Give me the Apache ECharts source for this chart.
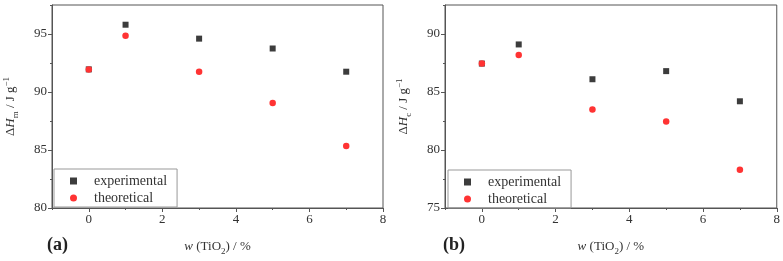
<!DOCTYPE html>
<html>
<head>
<meta charset="utf-8">
<script src="https://cdn.jsdelivr.net/npm/echarts@6/dist/echarts.min.js"></script>
<style>
    html, body {margin: 0; padding: 0; background: #fff;}
    #main {width: 783px; height: 261px;}
</style>
</head>
<body>
<div id="main"></div>
<script>
// w(TiO2) / %
const wTiO2 = [0, 1, 3, 5, 7];
// panel (a): melting enthalpy
const hmExperimental = [91.95, 95.8, 94.6, 93.75, 91.75];
const hmTheoretical = [91.95, 94.85, 91.75, 89.05, 85.35];
// panel (b): crystallisation enthalpy
const hcExperimental = [87.45, 89.1, 86.1, 86.8, 84.2];
const hcTheoretical = [87.45, 88.2, 83.5, 82.45, 78.3];

// ticks
const xMajor = [0, 2, 4, 6, 8];
const xMinor = [-1, 1, 3, 5, 7];
const yMajorA = [80, 85, 90, 95];
const yMinorA = [82.5, 87.5, 92.5, 97.5];
const yMajorB = [75, 80, 85, 90];
const yMinorB = [77.5, 82.5, 87.5, 92.5];

const FONT = '"Liberation Serif", "DejaVu Serif", serif';
const AXIS = '#555';
const SQ = '#3c3c3c';
const RED = '#ff3333';

const pairs = (ys) => wTiO2.map((x, i) => [x, ys[i]]);

const rich = {
    a: {fontFamily: FONT, fontSize: 13, color: '#333', lineHeight: 18},
    i: {fontFamily: FONT, fontSize: 13, color: '#333', fontStyle: 'italic', lineHeight: 18},
    sub: {fontFamily: FONT, fontSize: 9, color: '#333', verticalAlign: 'bottom', lineHeight: 9},
    sup: {fontFamily: FONT, fontSize: 9, color: '#333', verticalAlign: 'top', lineHeight: 9}
};

const xAxis = (gi) => ({
    gridIndex: gi,
    type: 'value',
    min: -1, max: 8, interval: 1,
    name: '{i|w} {a|(TiO}{sub|2}{a|) / %}',
    nameLocation: 'middle',
    nameGap: 30,
    nameTextStyle: {rich},
    axisLine: {onZero: false, lineStyle: {color: AXIS}},
    axisTick: {length: 4, customValues: xMajor, lineStyle: {color: AXIS}},
    splitLine: {show: false},
    axisLabel: {fontFamily: FONT, fontSize: 13, color: '#333', margin: 5, customValues: xMajor}
});

// second axis on the same grid, only for the short minor ticks
const xMinorAxis = (gi) => ({
    gridIndex: gi,
    type: 'value',
    position: 'bottom',
    min: -1, max: 8, interval: 1,
    axisLine: {show: false, onZero: false},
    axisTick: {length: 2, customValues: xMinor, lineStyle: {color: AXIS}},
    axisLabel: {show: false},
    splitLine: {show: false}
});

const yAxis = (gi, min, max, major, sub) => ({
    gridIndex: gi,
    type: 'value',
    min, max, interval: 5,
    name: '{a|Δ}{i|H}{sub|' + sub + '}{a| / J g}{sup|−1}',
    nameLocation: 'middle',
    nameGap: 32,
    nameTextStyle: {rich},
    axisLine: {show: true, onZero: false, lineStyle: {color: AXIS}},
    axisTick: {show: true, length: 4, customValues: major, lineStyle: {color: AXIS}},
    splitLine: {show: false},
    axisLabel: {fontFamily: FONT, fontSize: 13, color: '#333', margin: 5, customValues: major}
});

const yMinorAxis = (gi, min, max, minor) => ({
    gridIndex: gi,
    type: 'value',
    position: 'left',
    min, max, interval: 5,
    axisLine: {show: false, onZero: false},
    axisTick: {show: true, length: 2, customValues: minor, lineStyle: {color: AXIS}},
    axisLabel: {show: false},
    splitLine: {show: false}
});

const legend = (left, top) => ({
    orient: 'vertical',
    left, top,
    itemWidth: 7,
    itemHeight: 7,
    itemGap: 3,
    padding: [5, 10, 2, 16],
    borderColor: '#999',
    borderWidth: 1,
    textStyle: {fontFamily: FONT, fontSize: 14, color: '#333', padding: [0, 0, 0, 12]},
    data: [
        {name: 'experimental', icon: 'rect', itemStyle: {color: SQ}},
        {name: 'theoretical', icon: 'circle', itemStyle: {color: RED}}
    ]
});

const scatter = (name, gi, ys, square) => ({
    name,
    type: 'scatter',
    xAxisIndex: gi * 2,
    yAxisIndex: gi * 2,
    symbol: square ? 'rect' : 'circle',
    symbolSize: square ? 6 : 6.5,
    itemStyle: {color: square ? SQ : RED, opacity: 1},
    data: pairs(ys)
});

const chart = echarts.init(document.getElementById('main'));
chart.setOption({
    animation: false,
    backgroundColor: '#fff',
    grid: [
        {left: 52, right: 400, top: 5, bottom: 48, show: true, borderColor: AXIS, borderWidth: 1},
        {left: 445, right: 6, top: 5, bottom: 47, show: true, borderColor: AXIS, borderWidth: 1}
    ],
    xAxis: [xAxis(0), xMinorAxis(0), xAxis(1), xMinorAxis(1)],
    yAxis: [
        yAxis(0, 80, 97.5, yMajorA, 'm'), yMinorAxis(0, 80, 97.5, yMinorA),
        yAxis(1, 75, 92.5, yMajorB, 'c'), yMinorAxis(1, 75, 92.5, yMinorB)
    ],
    legend: [legend(54, 169), legend(448, 170)],
    series: [
        scatter('experimental', 0, hmExperimental, true),
        scatter('theoretical', 0, hmTheoretical, false),
        scatter('experimental', 1, hcExperimental, true),
        scatter('theoretical', 1, hcTheoretical, false)
    ],
    graphic: [
        {type: 'text', left: 47, top: 236, style: {text: '(a)', font: 'bold 18px ' + FONT, fill: '#222'}},
        {type: 'text', left: 443, top: 236, style: {text: '(b)', font: 'bold 18px ' + FONT, fill: '#222'}}
    ]
});
</script>
</body>
</html>
